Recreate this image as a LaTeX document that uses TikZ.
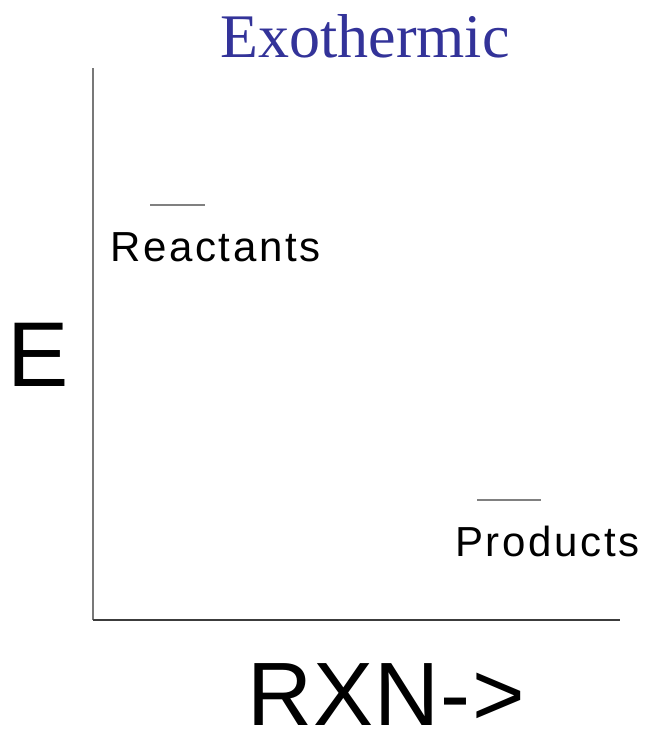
\documentclass[tikz,border=0pt]{standalone}
\usepackage{fontspec}
\setmainfont{Liberation Sans}
\newfontfamily\titlefont{Liberation Serif}
\newfontfamily\labelfont[LetterSpace=6.5]{Liberation Sans}
\newfontfamily\axisfont[LetterSpace=1.5]{Liberation Sans}
\definecolor{titleblue}{RGB}{51,51,153}
\definecolor{axisgray}{RGB}{120,120,120}
\definecolor{axisdark}{RGB}{60,60,60}
\definecolor{levelgray}{RGB}{128,128,128}
\tikzset{
  plain/.style={inner sep=0pt, outer sep=0pt, anchor=base west},
  level/.style={levelgray, line width=1.2pt},
  lab/.style={plain, font=\labelfont\fontsize{42}{42}\selectfont},
}
\begin{document}
\begin{tikzpicture}[x=1pt,y=-1pt]
  \useasboundingbox (0,0) rectangle (648,734);
  % title
  \node[inner sep=0pt, anchor=base, text=titleblue,
        font=\titlefont\fontsize{62}{62}\selectfont] (title) at (365,57) {Exothermic};
  % axes
  \coordinate (top) at (93,68);
  \coordinate (origin) at (93,620);
  \coordinate (right) at (620,620);
  \draw[axisgray, line width=1.6pt] (top) -- (origin);
  \draw[axisdark, line width=1.6pt] (origin) -- (right);
  % energy levels
  \coordinate (r1) at (150,205);
  \coordinate (r2) at (205,205);
  \coordinate (p1) at (477,500);
  \coordinate (p2) at (541,500);
  \draw[level] (r1) -- (r2);
  \draw[level] (p1) -- (p2);
  % labels
  \node[lab] (reac) at (110,261) {Reactants};
  \node[lab] (prod) at (455,556) {Products};
  \node[plain, font=\fontsize{92}{92}\selectfont] (E) at (8,386) {E};
  \node[plain, text depth=0pt, font=\axisfont\fontsize{90}{90}\selectfont] (rxn) at (247,725) {RXN->};
\end{tikzpicture}
\end{document}
